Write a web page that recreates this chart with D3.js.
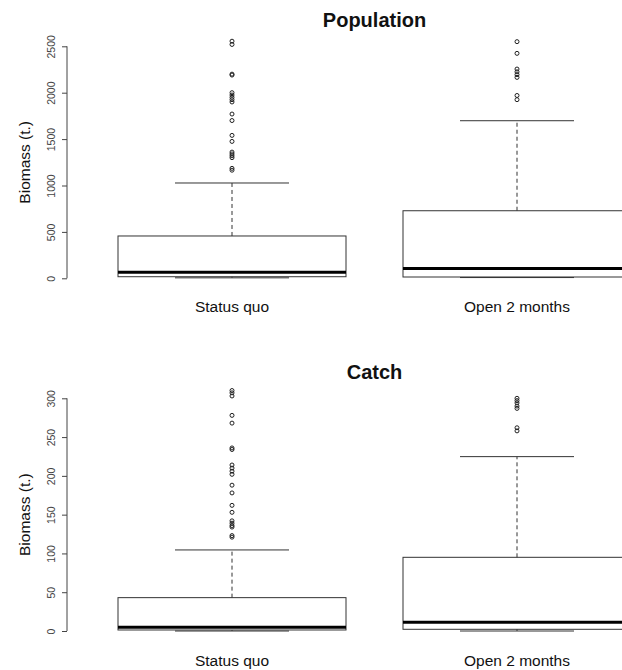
<!DOCTYPE html>
<html>
<head>
<meta charset="utf-8">
<script src="https://cdn.jsdelivr.net/npm/d3@7"></script>
<style>
  html, body { margin: 0; padding: 0; background: #fff; }
  svg { display: block; font-family: "Liberation Sans", Arial, sans-serif; }
</style>
</head>
<body>
<svg id="chart" width="622" height="670"></svg>
<script>
// Scenarios compared in both panels
const categories = ["Status quo", "Open 2 months"];

// Population biomass (t.) — box-plot statistics per scenario
const popLow     = [5, 8];
const popQ1      = [17, 14];
const popMedian  = [65, 105];
const popQ3      = [456, 728];
const popHigh    = [1027, 1698];
const popOutStatusQuo = [2555, 2520, 2200, 2190, 2000, 1975, 1950, 1925, 1900,
                         1770, 1700, 1540, 1475, 1360, 1340, 1320, 1300, 1185, 1165];
const popOutOpen2     = [2550, 2424, 2255, 2225, 2195, 2165, 1970, 1925];
const popTicks   = [0, 500, 1000, 1500, 2000, 2500];

// Catch biomass (t.) — box-plot statistics per scenario
const catchLow    = [0, 0];
const catchQ1     = [1.3, 2.2];
const catchMedian = [4.7, 11.2];
const catchQ3     = [43, 95];
const catchHigh   = [104.5, 224.8];
const catchOutStatusQuo = [310, 307, 303, 278, 268, 236, 234, 214, 210, 206, 202,
                           188, 178, 162, 153, 142, 139, 136, 134, 123, 121];
const catchOutOpen2     = [300, 297, 294, 290, 287, 262, 258];
const catchTicks  = [0, 50, 100, 150, 200, 250, 300];

const panels = [
  { title: "Population", low: popLow, q1: popQ1, med: popMedian, q3: popQ3, high: popHigh,
    outliers: [popOutStatusQuo, popOutOpen2], ticks: popTicks,
    domain: [0, 2500], range: [278.3, 46.3], titleY: 27, labelY: 312 },
  { title: "Catch", low: catchLow, q1: catchQ1, med: catchMedian, q3: catchQ3, high: catchHigh,
    outliers: [catchOutStatusQuo, catchOutOpen2], ticks: catchTicks,
    domain: [0, 300], range: [631, 398.3], titleY: 379, labelY: 666 }
];

const svg = d3.select("#chart");
const ink = "#222";

// Horizontal placement: each box occupies 0.8 of its slot
const x = d3.scaleBand()
  .domain(categories)
  .range([89.5, 659.5])
  .paddingInner(0.2)
  .paddingOuter(0.1);
const bw = x.bandwidth();
const axisX = 67;
const plotCenter = (axisX + 682) / 2;

panels.forEach(p => {
  const y = d3.scaleLinear().domain(p.domain).range(p.range);
  const g = svg.append("g");

  // Title
  g.append("text")
    .attr("x", plotCenter).attr("y", p.titleY)
    .attr("text-anchor", "middle")
    .attr("font-size", 20).attr("font-weight", "bold")
    .attr("fill", "#111")
    .text(p.title);

  // Y axis
  const yAxis = d3.axisLeft(y).tickValues(p.ticks).tickFormat(d3.format("d"))
    .tickSize(5).tickSizeOuter(0).tickPadding(0);
  const ag = g.append("g").attr("transform", `translate(${axisX},0)`).call(yAxis);
  ag.select(".domain").attr("stroke", "#444").attr("d", `M0,${y(p.ticks[0])}V${y(p.ticks[p.ticks.length - 1])}`);
  ag.selectAll(".tick line").attr("stroke", "#444");
  ag.selectAll(".tick text")
    .attr("font-size", 10.5)
    .attr("fill", "#444")
    .attr("font-family", "Liberation Sans, Arial, sans-serif")
    .attr("transform", `translate(-12,0) rotate(-90)`)
    .attr("x", 0).attr("y", 0).attr("dy", "0")
    .attr("text-anchor", "middle");

  // Y axis title
  const midY = (p.range[0] + p.range[1]) / 2;
  g.append("text")
    .attr("transform", `translate(30,${midY}) rotate(-90)`)
    .attr("text-anchor", "middle")
    .attr("font-size", 15.5)
    .attr("fill", "#111")
    .text("Biomass (t.)");

  categories.forEach((c, i) => {
    const x0 = x(c), cx = x0 + bw / 2;
    const capHalf = bw / 4;

    // Dashed whiskers
    g.append("line")
      .attr("x1", cx).attr("x2", cx)
      .attr("y1", y(p.q3[i])).attr("y2", y(p.high[i]))
      .attr("stroke", "#333").attr("stroke-dasharray", "4,3");
    g.append("line")
      .attr("x1", cx).attr("x2", cx)
      .attr("y1", y(p.q1[i])).attr("y2", y(p.low[i]))
      .attr("stroke", "#333").attr("stroke-dasharray", "4,3");

    // Whisker caps
    [p.high[i], p.low[i]].forEach(v => {
      g.append("line")
        .attr("x1", cx - capHalf).attr("x2", cx + capHalf)
        .attr("y1", y(v)).attr("y2", y(v))
        .attr("stroke", "#333");
    });

    // Box
    g.append("rect")
      .attr("x", x0).attr("width", bw)
      .attr("y", y(p.q3[i])).attr("height", y(p.q1[i]) - y(p.q3[i]))
      .attr("fill", "none").attr("stroke", "#333");

    // Median
    g.append("line")
      .attr("x1", x0).attr("x2", x0 + bw)
      .attr("y1", y(p.med[i])).attr("y2", y(p.med[i]))
      .attr("stroke", "#000").attr("stroke-width", 3);

    // Outliers
    g.selectAll(null).data(p.outliers[i]).enter().append("circle")
      .attr("cx", cx).attr("cy", d => y(d))
      .attr("r", 2).attr("fill", "none")
      .attr("stroke", ink).attr("stroke-width", 1);

    // Category label
    g.append("text")
      .attr("x", cx).attr("y", p.labelY)
      .attr("text-anchor", "middle")
      .attr("font-size", 15.5)
      .attr("fill", "#111")
      .text(c);
  });
});
</script>
</body>
</html>
